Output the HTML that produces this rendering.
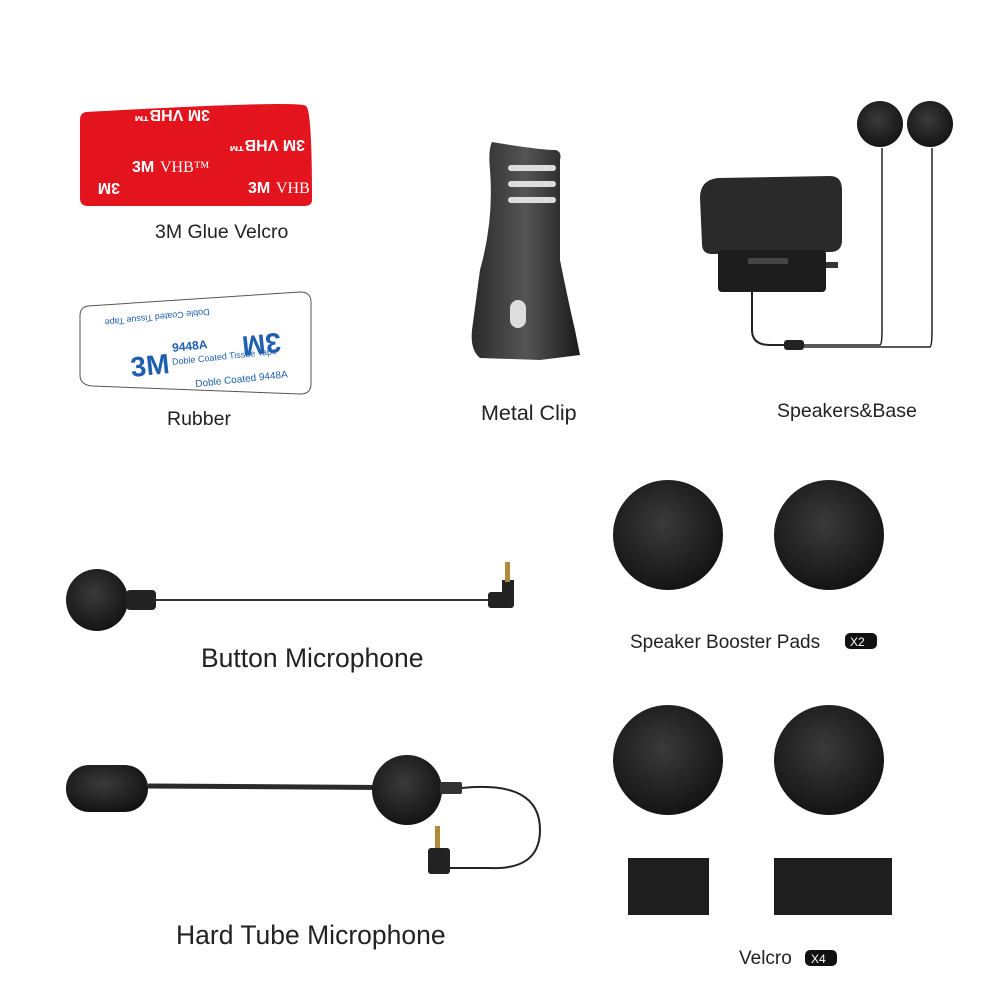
<!DOCTYPE html>
<html><head><meta charset="utf-8"><style>
html,body{margin:0;padding:0;background:#fff;}
svg{display:block;}
text{font-family:"Liberation Sans",Arial,sans-serif;fill:#222;}
</style></head><body>
<svg width="1000" height="1000" viewBox="0 0 1000 1000" xmlns="http://www.w3.org/2000/svg">
<defs>
<radialGradient id="foam" cx="45%" cy="40%" r="65%">
<stop offset="0" stop-color="#3a3a3a"/><stop offset="1" stop-color="#111"/></radialGradient>
<linearGradient id="clip" x1="0" x2="1"><stop offset="0" stop-color="#2a2a2a"/><stop offset="0.5" stop-color="#555"/><stop offset="1" stop-color="#1a1a1a"/></linearGradient>
</defs>

<!-- 3M red tape -->
<path d="M86 112 Q300 100 306 106 Q312 110 312 200 Q312 206 304 206 L88 206 Q80 206 80 198 L80 120 Q80 113 86 112Z" fill="#e3141d"/>
<g fill="#fff" font-weight="bold" font-size="16">
<text x="132" y="172" style="fill:#fff">3M</text><text x="160" y="172" style="fill:#fff;font-weight:normal;font-family:'Liberation Serif',serif">VHB™</text>
<text x="248" y="193" style="fill:#fff">3M</text><text x="276" y="193" style="fill:#fff;font-weight:normal;font-family:'Liberation Serif',serif">VHB</text>
<text x="92" y="193" style="fill:#fff" transform="rotate(180 106 188)">3M</text>
<text x="140" y="120" style="fill:#fff" transform="rotate(180 175 115)">3M VHB™</text>
<text x="245" y="150" style="fill:#fff" transform="rotate(180 275 145)">3M VHB™</text>
</g>
<text x="155" y="238" font-size="19.5">3M Glue Velcro</text>

<!-- Rubber card -->
<path d="M88 306 L300 292 Q311 292 311 302 L311 384 Q311 394 300 394 L92 386 Q80 385 80 375 L80 316 Q80 307 88 306Z" fill="#fff" stroke="#555" stroke-width="1"/>
<text x="130" y="375" font-size="28" font-weight="bold" style="fill:#1f5fb0" transform="rotate(-6 150 360)">3M</text>
<text x="172" y="350" font-size="12" font-weight="bold" style="fill:#1f5fb0" transform="rotate(-6 190 345)">9448A</text>
<text x="172" y="362" font-size="9" style="fill:#1f5fb0" transform="rotate(-6 200 360)">Doble Coated Tissue Tape</text>
<text x="235" y="355" font-size="28" font-weight="bold" style="fill:#1f5fb0" transform="rotate(174 258 345)">3M</text>
<text x="110" y="322" font-size="9" style="fill:#1f5fb0" transform="rotate(174 160 318)">Doble Coated Tissue Tape</text>
<text x="195" y="385" font-size="10" style="fill:#1f5fb0" transform="rotate(-6 215 380)">Doble Coated 9448A</text>
<text x="167" y="425" font-size="19.5">Rubber</text>

<!-- Metal clip -->
<path d="M492 142 Q540 150 556 150 Q562 152 560 160 L560 260 Q568 300 575 330 L580 355 L540 360 L480 358 Q470 350 472 330 L480 270 Q494 220 490 170 Q488 150 492 142Z" fill="url(#clip)"/>
<rect x="508" y="165" width="48" height="6" rx="3" fill="#ddd"/>
<rect x="508" y="181" width="48" height="6" rx="3" fill="#ddd"/>
<rect x="508" y="197" width="48" height="6" rx="3" fill="#ddd"/>
<rect x="510" y="300" width="16" height="28" rx="8" fill="#ddd"/>
<text x="481" y="420" font-size="21.5">Metal Clip</text>

<!-- Speakers & base -->
<path d="M700 198 Q700 180 718 178 L830 176 Q842 176 842 190 L842 240 Q842 252 830 252 L712 254 Q702 254 702 244Z" fill="#2a2a2a"/>
<rect x="718" y="250" width="108" height="42" rx="4" fill="#1c1c1c"/>
<rect x="748" y="258" width="40" height="6" fill="#444"/>
<rect x="826" y="262" width="12" height="6" fill="#333"/>
<path d="M752 292 L752 330 Q752 345 770 345 L790 345" fill="none" stroke="#222" stroke-width="2"/>
<rect x="784" y="340" width="20" height="10" rx="3" fill="#222"/>
<path d="M804 345 L880 345 Q882 345 882 330 L882 148" fill="none" stroke="#222" stroke-width="1.5"/>
<path d="M804 347 L930 347 Q932 347 932 330 L932 148" fill="none" stroke="#222" stroke-width="1.5"/>
<circle cx="880" cy="124" r="23" fill="url(#foam)"/>
<circle cx="930" cy="124" r="23" fill="url(#foam)"/>
<text x="777" y="417" font-size="19.5">Speakers&amp;Base</text>

<!-- Booster pads -->
<circle cx="668" cy="535" r="55" fill="url(#foam)"/>
<circle cx="829" cy="535" r="55" fill="url(#foam)"/>
<text x="630" y="648" font-size="19">Speaker Booster Pads</text>
<rect x="845" y="633" width="32" height="16" rx="5" fill="#111"/>
<text x="850" y="646" font-size="12" style="fill:#fff">X2</text>

<circle cx="668" cy="760" r="55" fill="url(#foam)"/>
<circle cx="829" cy="760" r="55" fill="url(#foam)"/>

<!-- Velcro -->
<rect x="628" y="858" width="81" height="57" fill="#1e1e1e"/>
<rect x="774" y="858" width="118" height="57" fill="#1e1e1e"/>
<text x="739" y="964" font-size="19">Velcro</text>
<rect x="805" y="950" width="32" height="16" rx="5" fill="#111"/>
<text x="811" y="963" font-size="12" style="fill:#fff">X4</text>

<!-- Button microphone -->
<circle cx="97" cy="600" r="31" fill="url(#foam)"/>
<rect x="126" y="590" width="30" height="20" rx="4" fill="#222"/>
<line x1="156" y1="600" x2="492" y2="600" stroke="#333" stroke-width="2"/>
<rect x="488" y="592" width="26" height="16" rx="3" fill="#222"/>
<rect x="502" y="580" width="12" height="20" fill="#222"/>
<rect x="505" y="562" width="5" height="20" fill="#b08a3a"/>
<text x="201" y="667" font-size="26.5">Button Microphone</text>

<!-- Hard tube microphone -->
<rect x="66" y="765" width="82" height="47" rx="23" fill="url(#foam)"/>
<line x1="148" y1="786" x2="460" y2="788" stroke="#2a2a2a" stroke-width="5"/>
<circle cx="407" cy="790" r="35" fill="url(#foam)"/>
<rect x="440" y="782" width="22" height="12" rx="2" fill="#333"/>
<path d="M462 788 Q540 780 540 830 Q540 870 490 868 L450 868" fill="none" stroke="#222" stroke-width="2"/>
<rect x="428" y="848" width="22" height="26" rx="3" fill="#222"/>
<rect x="435" y="826" width="5" height="22" fill="#b08a3a"/>
<text x="176" y="944" font-size="26.5">Hard Tube Microphone</text>
</svg>
</body></html>
